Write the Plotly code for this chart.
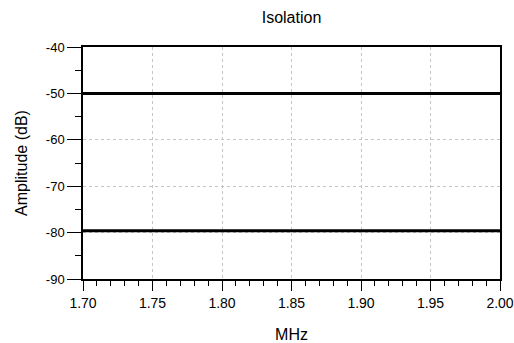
import plotly.graph_objects as go

freq_mhz = [1.70, 1.75, 1.80, 1.85, 1.90, 1.95, 2.00]
isolation_upper_db = [-50.0, -50.0, -50.0, -50.0, -50.0, -50.0, -50.0]
isolation_lower_db = [-79.6, -79.6, -79.6, -79.6, -79.6, -79.6, -79.6]

x_ticks = [1.70, 1.75, 1.80, 1.85, 1.90, 1.95, 2.00]
x_tick_text = ["1.70", "1.75", "1.80", "1.85", "1.90", "1.95", "2.00"]
y_ticks = [-90, -80, -70, -60, -50, -40]
y_tick_text = ["-90", "-80", "-70", "-60", "-50", "-40"]

font_family = "Liberation Sans, Arial, sans-serif"

fig = go.Figure()
for ys in (isolation_upper_db, isolation_lower_db):
    fig.add_trace(go.Scatter(x=freq_mhz, y=ys, mode="lines",
                             line=dict(color="black", width=3),
                             showlegend=False, hoverinfo="skip"))

fig.update_layout(
    width=514, height=343,
    margin=dict(l=83, r=14, t=47, b=64),
    paper_bgcolor="white", plot_bgcolor="white",
    font=dict(family=font_family, color="black", size=14),
    title=dict(text="Isolation", x=0.5, xref="paper", xanchor="center",
               y=1, yref="container", yanchor="top", pad=dict(t=12),
               font=dict(size=16, family=font_family)),
)

fig.update_xaxes(
    range=[1.70, 2.00], tickmode="array", tickvals=x_ticks, ticktext=x_tick_text,
    ticks="outside", ticklen=10, tickwidth=1, tickcolor="black",
    minor=dict(dtick=0.01, tick0=1.70, ticks="outside", ticklen=5, tickwidth=1,
               tickcolor="black", showgrid=False),
    showline=True, linecolor="black", linewidth=1.5, mirror=True,
    showgrid=True, gridcolor="#c4c4c4", griddash="dot", gridwidth=1,
    zeroline=False, automargin=False,
    title=dict(text="MHz", font=dict(size=16, family=font_family), standoff=22),
    tickfont=dict(size=14),
)
fig.update_yaxes(
    range=[-90, -40], tickmode="array", tickvals=y_ticks, ticktext=y_tick_text,
    ticks="outside", ticklen=14, tickwidth=1, tickcolor="black",
    minor=dict(dtick=5, tick0=-90, ticks="outside", ticklen=6, tickwidth=1,
               tickcolor="black", showgrid=False),
    showline=True, linecolor="black", linewidth=1.5, mirror=True,
    showgrid=True, gridcolor="#c4c4c4", griddash="dot", gridwidth=1,
    zeroline=False, automargin=False,
    title=dict(text="Amplitude (dB)", font=dict(size=16, family=font_family), standoff=14),
    tickfont=dict(size=13),
)

fig.write_html("out.html")
